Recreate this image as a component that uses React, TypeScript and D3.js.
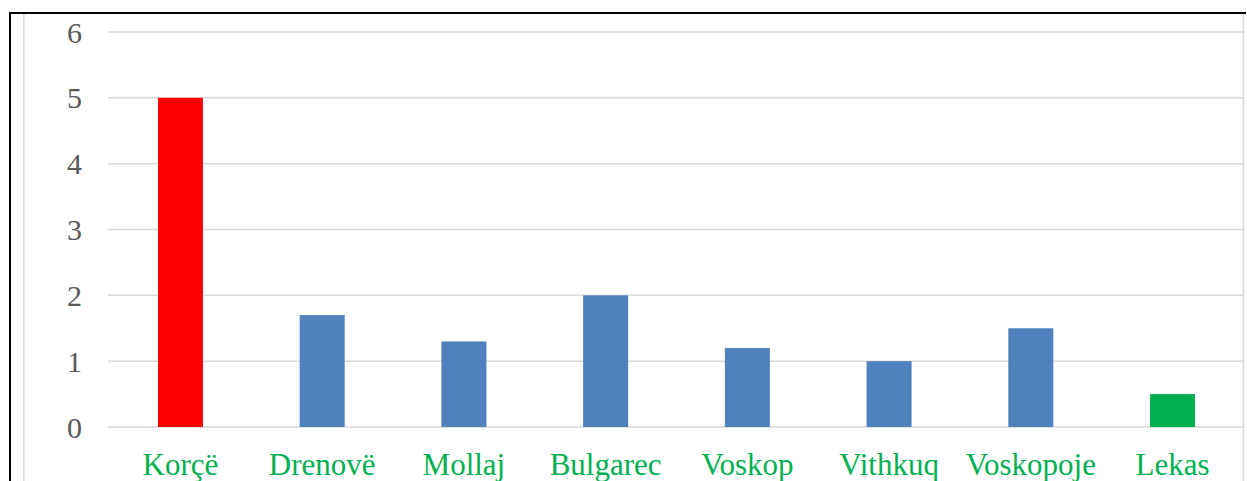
import React from "react";
import * as d3 from "d3";

const categories = ["Korçë", "Drenovë", "Mollaj", "Bulgarec", "Voskop", "Vithkuq", "Voskopoje", "Lekas"];
const values = [5, 1.7, 1.3, 2, 1.2, 1, 1.5, 0.5];
const barColors = ["#FF0000", "#4F81BD", "#4F81BD", "#4F81BD", "#4F81BD", "#4F81BD", "#4F81BD", "#00B050"];
const yTicks = [0, 1, 2, 3, 4, 5, 6];

const W = 1247;
const H = 481;

export default function App() {
  const x = d3.scaleBand<string>().domain(categories).range([109.6, 1243.4]).paddingInner(0).paddingOuter(0);
  const y = d3.scaleLinear().domain([0, 6]).range([427, 32]);
  const barW = 45;
  return (
    <svg width={W} height={H} style={{ position: "absolute", left: 0, top: 0 }} xmlns="http://www.w3.org/2000/svg">
      <rect x={0} y={0} width={W} height={H} fill="#fff" />
      {/* frame */}
      <line x1={10} y1={13} x2={1246} y2={13} stroke="#000" strokeWidth={2} />
      <line x1={10} y1={12} x2={10} y2={H} stroke="#000" strokeWidth={2} />
      <line x1={23.8} y1={14} x2={23.8} y2={H} stroke="#d9d9d9" strokeWidth={1.5} />
      <line x1={1243.5} y1={14} x2={1243.5} y2={H} stroke="#d9d9d9" strokeWidth={1.5} />
      {/* gridlines */}
      {yTicks.map((t) => (
        <line key={t} x1={108} x2={1243} y1={y(t)} y2={y(t)} stroke="#d9d9d9" strokeWidth={1.5} />
      ))}
      {/* tick labels */}
      {yTicks.map((t) => (
        <text
          key={"l" + t}
          x={82}
          y={y(t)}
          dy="0.35em"
          textAnchor="end"
          fill="#595959"
          fontFamily="'Liberation Serif', 'Times New Roman', serif"
          fontSize={30}
        >
          {t}
        </text>
      ))}
      {/* bars */}
      {categories.map((c, i) => {
        const cx = (x(c) as number) + x.bandwidth() / 2;
        return (
          <rect
            key={c}
            x={cx - barW / 2}
            y={y(values[i])}
            width={barW}
            height={y(0) - y(values[i])}
            fill={barColors[i]}
          />
        );
      })}
      {/* category labels */}
      {categories.map((c) => {
        const cx = (x(c) as number) + x.bandwidth() / 2;
        return (
          <text
            key={"c" + c}
            x={cx}
            y={475}
            textAnchor="middle"
            fill="#00B050"
            fontFamily="'Liberation Serif', 'Times New Roman', serif"
            fontSize={31}
          >
            {c}
          </text>
        );
      })}
    </svg>
  );
}
